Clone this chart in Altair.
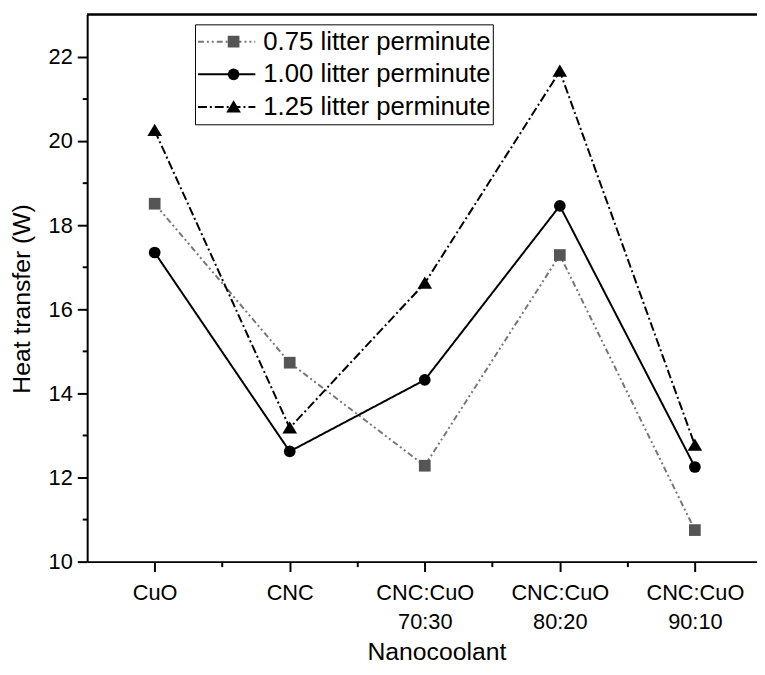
import json
import altair as alt
import pandas as pd

# ---- data ----
categories = ["CuO", "CNC", "CNC:CuO\n70:30", "CNC:CuO\n80:20", "CNC:CuO\n90:10"]
series_names = ["0.75 litter perminute", "1.00 litter perminute", "1.25 litter perminute"]
flow_075 = [18.51, 14.73, 12.28, 17.29, 10.75]
flow_100 = [17.35, 12.62, 14.32, 18.46, 12.25]
flow_125 = [20.25, 13.18, 16.62, 21.66, 12.77]

y_tick_values = list(range(10, 23))
x_tick_values = [1, 1.5, 2, 2.5, 3, 3.5, 4, 4.5, 5]

rows = []
for name, vals in zip(series_names, [flow_075, flow_100, flow_125]):
    for i, v in enumerate(vals):
        rows.append({"pos": i + 1, "value": v, "series": name, "series_pt": name})
df = pd.DataFrame(rows)

FONT = "Liberation Sans"
W, H = 677, 553
TRIANGLE = "M0,-1.15L1.25,0.95L-1.25,0.95Z"

label_lines = [c.split("\n") for c in categories]
x_label_expr = f"datum.value % 1 == 0 ? {json.dumps(label_lines)}[datum.value - 1] : ''"

x_enc = alt.X(
    "pos:Q",
    scale=alt.Scale(domain=[0.5, 5.46], nice=False, zero=False),
    axis=alt.Axis(
        values=x_tick_values,
        labelExpr=x_label_expr,
        tickSize={"condition": {"test": "datum.value % 1 != 0", "value": 5}, "value": 10},
        grid=False,
        domainColor="black",
        domainWidth=2,
        tickColor="black",
        tickWidth=2,
        labelFont=FONT,
        labelFontSize=22,
        labelColor="black",
        labelPadding=11,
        labelLineHeight=30,
        labelOverlap=False,
        labelFlush=False,
        title="Nanocoolant",
        titleFont=FONT,
        titleFontSize=25,
        titleFontWeight="normal",
        titleColor="black",
        titleX=353,
        titleY=91,
        titleBaseline="middle",
    ),
)

y_enc = alt.Y(
    "value:Q",
    scale=alt.Scale(domain=[10, 23.01], nice=False, zero=False),
    axis=alt.Axis(
        values=y_tick_values,
        labelExpr="datum.value % 2 == 0 ? datum.label : ''",
        tickSize={"condition": {"test": "datum.value % 2 != 0", "value": 5}, "value": 10},
        grid=False,
        domainColor="black",
        domainWidth=2,
        tickColor="black",
        tickWidth=2,
        labelFont=FONT,
        labelFontSize=22,
        labelColor="black",
        labelPadding=5,
        title="Heat transfer (W)",
        titleFont=FONT,
        titleFontSize=25,
        titleFontWeight="normal",
        titleColor="black",
        titleX=-66,
        titleY=287,
        titleBaseline="middle",
    ),
)

leg_common = dict(
    title=None,
    orient="none",
    legendX=109,
    legendY=10,
    labelFont=FONT,
    labelFontSize=26,
    labelColor="black",
    labelOffset=7,
    labelLimit=400,
    padding=2,
    clipHeight=31,
    rowPadding=2,
)

leg_lines = alt.Legend(
    symbolType="stroke",
    symbolSize=3364,
    symbolStrokeWidth=2,
    strokeColor="black",
    fillColor="white",
    **leg_common,
)

leg_points = alt.Legend(
    symbolSize=140,
    symbolStrokeWidth=0,
    symbolOffset=24,
    labelExpr="''",
    **leg_common,
)

lines = alt.Chart(df).mark_line(strokeWidth=2).encode(
    x=x_enc,
    y=y_enc,
    stroke=alt.Stroke(
        "series:N",
        scale=alt.Scale(range=["#777777", "#000000", "#000000"]),
        legend=leg_lines,
    ),
    strokeDash=alt.StrokeDash(
        "series:N",
        scale=alt.Scale(range=[[6, 3, 2, 3, 2, 3], [1, 0], [9, 3, 2, 3]]),
        legend=leg_lines,
    ),
)

points = alt.Chart(df).mark_point(filled=True, opacity=1, size=140, strokeWidth=0).encode(
    x=x_enc,
    y=y_enc,
    fill=alt.Fill(
        "series_pt:N",
        scale=alt.Scale(range=["#555555", "#000000", "#000000"]),
        legend=leg_points,
    ),
    shape=alt.Shape(
        "series_pt:N",
        scale=alt.Scale(range=["square", "circle", TRIANGLE]),
        legend=leg_points,
    ),
)

top_line = alt.Chart(pd.DataFrame({"a": [0]})).mark_rule(color="black", strokeWidth=2.5).encode(
    x=alt.value(0), x2=alt.value(W), y=alt.value(0)
)

chart = (
    alt.layer(lines, points, top_line)
    .properties(
        width=W,
        height=H,
        padding={"left": 80, "top": 3, "right": 0, "bottom": 106},
        autosize="none",
    )
    .configure_view(stroke=None)
    .configure(font=FONT)
)

chart.save("out.html", embed_options={"renderer": "svg", "actions": False})
